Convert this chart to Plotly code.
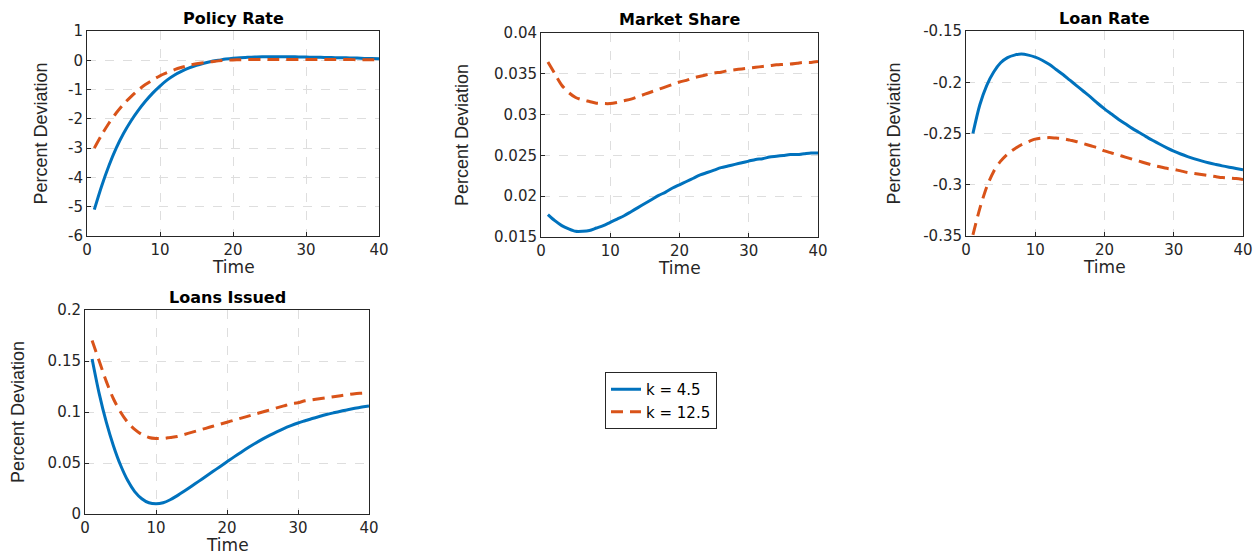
import plotly.graph_objects as go

t = list(range(1, 41))

policy_k45 = [-5.1, -4.3, -3.6, -3.0, -2.5, -2.08, -1.72, -1.4, -1.12, -0.88,
              -0.67, -0.5, -0.37, -0.26, -0.17, -0.1, -0.04, 0.0, 0.04, 0.07,
              0.09, 0.1, 0.11, 0.12, 0.12, 0.12, 0.12, 0.12, 0.115, 0.11,
              0.105, 0.1, 0.095, 0.09, 0.085, 0.08, 0.075, 0.065, 0.06, 0.05]
policy_k125 = [-3.0, -2.55, -2.15, -1.8, -1.5, -1.25, -1.02, -0.83, -0.67, -0.53,
               -0.42, -0.32, -0.24, -0.17, -0.12, -0.08, -0.05, -0.02, 0.0, 0.01,
               0.02, 0.025, 0.03, 0.03, 0.03, 0.03, 0.03, 0.03, 0.03, 0.03,
               0.03, 0.03, 0.03, 0.025, 0.025, 0.025, 0.02, 0.02, 0.02, 0.02]

share_k45 = [0.01775, 0.0170, 0.0164, 0.0160, 0.0157, 0.0157, 0.0158, 0.0161, 0.0164, 0.0168,
             0.0172, 0.0176, 0.0181, 0.0186, 0.0191, 0.0196, 0.0201, 0.0205, 0.0210, 0.0214,
             0.0218, 0.0222, 0.0226, 0.0229, 0.0232, 0.0235, 0.0237, 0.0239, 0.0241, 0.0243,
             0.0245, 0.0246, 0.0248, 0.0249, 0.0250, 0.0251, 0.0251, 0.0252, 0.0253, 0.0253]
share_k125 = [0.03646, 0.0350, 0.0336, 0.0327, 0.0321, 0.0318, 0.0316, 0.0314, 0.03135, 0.03135,
              0.0315, 0.0317, 0.0319, 0.0322, 0.0325, 0.0328, 0.0331, 0.0334, 0.0337, 0.0340,
              0.0342, 0.0345, 0.0347, 0.0349, 0.0351, 0.0352, 0.0354, 0.0355, 0.0356, 0.0357,
              0.0358, 0.0359, 0.0360, 0.0361, 0.03615, 0.0362, 0.0363, 0.0364, 0.0364, 0.0365]

loanrate_k45 = [-0.250, -0.222, -0.203, -0.190, -0.181, -0.176, -0.1735, -0.1725, -0.1735, -0.1755,
                -0.1785, -0.1825, -0.1875, -0.1925, -0.198, -0.2035, -0.209, -0.2145, -0.2205, -0.226,
                -0.231, -0.236, -0.2405, -0.245, -0.249, -0.253, -0.2568, -0.2605, -0.264, -0.2672,
                -0.270, -0.2725, -0.2747, -0.2767, -0.2785, -0.2801, -0.2816, -0.2829, -0.2841, -0.2853]
loanrate_k125 = [-0.349, -0.323, -0.302, -0.287, -0.277, -0.270, -0.265, -0.261, -0.258, -0.2555,
                 -0.2545, -0.254, -0.2545, -0.255, -0.2565, -0.258, -0.260, -0.262, -0.264, -0.267,
                 -0.269, -0.271, -0.273, -0.275, -0.277, -0.279, -0.281, -0.2825, -0.284, -0.285,
                 -0.2865, -0.288, -0.289, -0.290, -0.291, -0.292, -0.293, -0.2935, -0.294, -0.295]

loans_k45 = [0.152, 0.118, 0.090, 0.067, 0.048, 0.033, 0.022, 0.015, 0.011, 0.010,
             0.011, 0.014, 0.018, 0.0225, 0.0272, 0.032, 0.0368, 0.0416, 0.0464, 0.0512,
             0.056, 0.0606, 0.0651, 0.0694, 0.0734, 0.0771, 0.0806, 0.0838, 0.0866, 0.0892,
             0.0914, 0.0936, 0.0956, 0.0975, 0.0992, 0.1008, 0.1022, 0.1036, 0.1048, 0.106]
loans_k125 = [0.170, 0.150, 0.130, 0.113, 0.100, 0.090, 0.083, 0.078, 0.075, 0.074,
              0.074, 0.075, 0.076, 0.078, 0.080, 0.082, 0.084, 0.086, 0.088, 0.090,
              0.092, 0.094, 0.096, 0.098, 0.100, 0.102, 0.104, 0.106, 0.108, 0.109,
              0.111, 0.112, 0.113, 0.114, 0.115, 0.116, 0.117, 0.118, 0.1185, 0.119]

titles = ["Policy Rate", "Market Share", "Loan Rate", "Loans Issued"]
series_names = ["k = 4.5", "k = 12.5"]

x_ticks = [0, 10, 20, 30, 40]
y_ticks = [
    [1, 0, -1, -2, -3, -4, -5, -6],
    [0.04, 0.035, 0.03, 0.025, 0.02, 0.015],
    [-0.15, -0.2, -0.25, -0.3, -0.35],
    [0.2, 0.15, 0.1, 0.05, 0],
]
y_ticklabels = [
    ["1", "0", "-1", "-2", "-3", "-4", "-5", "-6"],
    ["0.04", "0.035", "0.03", "0.025", "0.02", "0.015"],
    ["-0.15", "-0.2", "-0.25", "-0.3", "-0.35"],
    ["0.2", "0.15", "0.1", "0.05", "0"],
]
y_ranges = [[-6, 1], [0.015, 0.04], [-0.35, -0.15], [0, 0.2]]

data = [(policy_k45, policy_k125), (share_k45, share_k125),
        (loanrate_k45, loanrate_k125), (loans_k45, loans_k125)]

W, H = 1257, 560
# axes boxes in pixels: left, right, top, bottom
boxes = [(87, 379, 31, 236), (541, 818, 33, 237), (966, 1243, 31, 236), (85, 369, 310, 514)]

BLUE = "#0072BD"
RED = "#D95319"
TXT = "#262626"
TICKFONT = dict(family="DejaVu Sans", size=15, color=TXT)

fig = go.Figure()
annotations = []
for i, (b, (s1, s2)) in enumerate(zip(boxes, data)):
    n = "" if i == 0 else str(i + 1)
    xa, ya = "x" + n, "y" + n
    fig.add_trace(go.Scatter(x=t, y=s1, mode="lines", name=series_names[0],
                             line=dict(color=BLUE, width=3, shape="spline", smoothing=0.8),
                             xaxis=xa, yaxis=ya, showlegend=(i == 0)))
    fig.add_trace(go.Scatter(x=t, y=s2, mode="lines", name=series_names[1],
                             line=dict(color=RED, width=3, dash="12px,7px", shape="spline", smoothing=0.8),
                             xaxis=xa, yaxis=ya, showlegend=(i == 0)))
    l, r, tp, bt = b
    common = dict(showline=True, mirror=True, linecolor=TXT, linewidth=1,
                  ticks="inside", ticklen=4, tickcolor=TXT, showgrid=True,
                  gridcolor="#dedede", griddash="dash", gridwidth=1, zeroline=False,
                  tickfont=TICKFONT, automargin=False)
    fig.update_layout(**{
        "xaxis" + n: dict(domain=[l / W, r / W], range=[0, 40], tickvals=x_ticks,
                          anchor=ya, **common),
        "yaxis" + n: dict(domain=[1 - bt / H, 1 - tp / H], range=y_ranges[i],
                          tickvals=y_ticks[i], ticktext=y_ticklabels[i],
                          anchor=xa, **common),
    })
    cx = (l + r) / 2
    annotations.append(dict(text="<b>" + titles[i] + "</b>", x=cx / W, y=1 - (tp - 13) / H,
                            xref="paper", yref="paper", showarrow=False,
                            font=dict(family="DejaVu Sans", size=16, color="black"),
                            xanchor="center", yanchor="middle"))
    annotations.append(dict(text="Time", x=cx / W, y=1 - (bt + 31) / H,
                            xref="paper", yref="paper", showarrow=False,
                            font=dict(family="DejaVu Sans", size=17, color=TXT),
                            xanchor="center", yanchor="middle"))
ylab_x = [40, 462, 893, 18]
for i, b in enumerate(boxes):
    l, r, tp, bt = b
    annotations.append(dict(text="Percent Deviation", x=ylab_x[i] / W, y=1 - ((tp + bt) / 2) / H,
                            xref="paper", yref="paper", showarrow=False, textangle=-90,
                            font=dict(family="Liberation Sans Narrow, Liberation Sans", size=18, color=TXT),
                            xanchor="center", yanchor="middle"))

fig.update_layout(
    width=W, height=H, autosize=False,
    margin=dict(l=0, r=0, t=0, b=0, pad=0, autoexpand=False),
    paper_bgcolor="white", plot_bgcolor="white",
    annotations=annotations,
    showlegend=True,
    legend=dict(x=605 / W, y=1 - 372 / H, xanchor="left", yanchor="top",
                bordercolor=TXT, borderwidth=1, bgcolor="white",
                font=dict(family="DejaVu Sans", size=15, color="black"),
                tracegroupgap=0),
)

post = """
document.documentElement.style.margin = '0';
document.body.style.margin = '0';
document.body.style.overflow = 'hidden';
"""

fig.write_html("out.html", config={"displayModeBar": False}, post_script=post)
